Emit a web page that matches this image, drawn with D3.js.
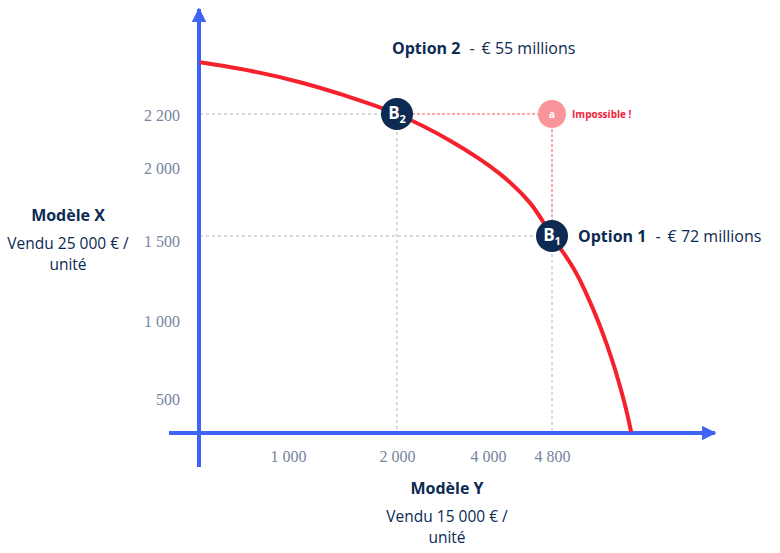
<!DOCTYPE html>
<html>
<head>
<meta charset="utf-8">
<script src="https://cdn.jsdelivr.net/npm/d3@7"></script>
<style>
  body { margin: 0; background: #fff; }
  svg { display: block; }
  .lbl { font-family: "Open Sans", sans-serif; fill: #0c2a52; }
  .tick text { font-family: "Liberation Serif", serif; font-size: 16px; fill: #7584a0; }
</style>
</head>
<body>
<svg id="chart" width="780" height="553"></svg>
<script>
const width = 780, height = 553;

// axis breakpoints (the picture's axes are not linear)
const xBreaks = [0, 1000, 2000, 4000, 4800];
const yBreaks = [0, 500, 1000, 1500, 2000, 2200];
const xTicks = [1000, 2000, 4000, 4800];
const yTicks = [500, 1000, 1500, 2000, 2200];

// production possibility frontier
const curveX = [0, 570, 1110, 1520, 2000, 3160, 4150, 4525, 4800, 5090, 5340, 5550, 5700, 5790];
const curveY = [2395, 2363, 2320, 2270, 2200, 2100, 1950, 1740, 1500, 1290, 1035, 745, 455, 0];

// options on the frontier
const optNames = ["B", "B"];
const optSubs = ["2", "1"];
const optX = [2000, 4800];
const optY = [2200, 1500];

// impossible point
const impX = 4800, impY = 2200;

const svg = d3.select("#chart");

const x = d3.scaleLinear()
  .domain(xBreaks)
  .range([200, 288, 397, 488, 552]);

const y = d3.scaleLinear()
  .domain(yBreaks)
  .range([432, 398, 320, 236, 167, 114]);

const blue = "#3e63f5", navy = "#0c2a52", red = "#f5222d", grey = "#a9b3c4";

// dashed guides
const guides = svg.append("g");
optX.forEach((v, i) => {
  guides.append("line")
    .attr("x1", x(0)).attr("x2", x(v))
    .attr("y1", y(optY[i])).attr("y2", y(optY[i]))
    .attr("stroke", grey).attr("stroke-width", 1).attr("stroke-dasharray", "3,3");
  guides.append("line")
    .attr("x1", x(v)).attr("x2", x(v))
    .attr("y1", y(optY[i])).attr("y2", y(0))
    .attr("stroke", grey).attr("stroke-width", 1).attr("stroke-dasharray", "3,3");
});
guides.append("line")
  .attr("x1", x(optX[0])).attr("x2", x(impX))
  .attr("y1", y(impY)).attr("y2", y(impY))
  .attr("stroke", "#f78a8f").attr("stroke-width", 1.5).attr("stroke-dasharray", "3,2");
guides.append("line")
  .attr("x1", x(impX)).attr("x2", x(impX))
  .attr("y1", y(impY)).attr("y2", y(optY[1]))
  .attr("stroke", "#f78a8f").attr("stroke-width", 1.5).attr("stroke-dasharray", "3,2");

// axes lines with arrows
svg.append("defs").append("marker")
  .attr("id", "arrow")
  .attr("viewBox", "0 0 10 10")
  .attr("refX", 9).attr("refY", 5)
  .attr("markerWidth", 3.6).attr("markerHeight", 3.6)
  .attr("markerUnits", "strokeWidth")
  .attr("orient", "auto")
  .append("path").attr("d", "M0,0L10,5L0,10Z").attr("fill", blue);

svg.append("line")
  .attr("x1", 169).attr("x2", 715)
  .attr("y1", y(0) + 1).attr("y2", y(0) + 1)
  .attr("stroke", blue).attr("stroke-width", 4)
  .attr("marker-end", "url(#arrow)");
svg.append("line")
  .attr("x1", x(0) - 1).attr("x2", x(0) - 1)
  .attr("y1", 467).attr("y2", 9)
  .attr("stroke", blue).attr("stroke-width", 4)
  .attr("marker-end", "url(#arrow)");

// tick labels
const fmt = d => d3.format(",")(d).replace(",", " ");

const xAxis = svg.append("g")
  .attr("transform", `translate(0,${y(0)})`)
  .call(d3.axisBottom(x).tickValues(xTicks).tickSize(0).tickPadding(19).tickFormat(fmt));
xAxis.select(".domain").remove();

const yAxis = svg.append("g")
  .attr("transform", `translate(${x(0)},0)`)
  .call(d3.axisLeft(y).tickValues(yTicks).tickSize(0).tickPadding(20).tickFormat(fmt));
yAxis.select(".domain").remove();
yAxis.selectAll(".tick text").attr("dy", d => d === 1500 ? "0.65em" : "0.38em");

// frontier
const line = d3.line()
  .x(d => x(d[0]))
  .y(d => y(d[1]))
  .curve(d3.curveCatmullRom.alpha(0.5));

svg.append("path")
  .datum(curveX.map((v, i) => [v, curveY[i]]))
  .attr("d", line)
  .attr("fill", "none")
  .attr("stroke", red)
  .attr("stroke-width", 4);

// impossible point
svg.append("circle")
  .attr("cx", x(impX)).attr("cy", y(impY)).attr("r", 14)
  .attr("fill", "#f9959a");
svg.append("text")
  .attr("x", x(impX)).attr("y", y(impY) + 3.5)
  .attr("text-anchor", "middle")
  .attr("font-family", "Open Sans, sans-serif").attr("font-weight", 700)
  .attr("font-size", 10).attr("fill", "#fff")
  .text("a");
svg.append("text")
  .attr("x", x(impX) + 20).attr("y", y(impY) + 3.5)
  .attr("font-family", "Open Sans, sans-serif").attr("font-weight", 700)
  .attr("font-size", 10).attr("fill", "#f0233a")
  .text("Impossible !");

// option points
optX.forEach((v, i) => {
  svg.append("circle")
    .attr("cx", x(v)).attr("cy", y(optY[i])).attr("r", 16)
    .attr("fill", navy);
  const t = svg.append("text")
    .attr("x", x(v)).attr("y", y(optY[i]) + 5)
    .attr("text-anchor", "middle")
    .attr("font-family", "Open Sans, sans-serif").attr("font-weight", 700)
    .attr("fill", "#fff");
  t.append("tspan").attr("font-size", 17).text(optNames[i]);
  t.append("tspan").attr("font-size", 11).attr("dy", 4).text(optSubs[i]);
});

// option labels
function optionLabel(px, py, title, value) {
  const t = svg.append("text").attr("class", "lbl")
    .attr("x", px).attr("y", py);
  t.append("tspan").attr("font-weight", 700).attr("font-size", 16).text(title);
  t.append("tspan").attr("font-size", 16).attr("dx", 9).text("-");
  t.append("tspan").attr("font-size", 16).attr("dx", 7).text(value);
}
optionLabel(392, 54, "Option 2", "€ 55 millions");
optionLabel(x(optX[1]) + 26, y(optY[1]) + 6, "Option 1", "€ 72 millions");

// axis titles
function axisTitle(cx, top, title, sub1, sub2) {
  svg.append("text").attr("class", "lbl")
    .attr("x", cx).attr("y", top)
    .attr("text-anchor", "middle")
    .attr("font-weight", 700).attr("font-size", 16)
    .text(title);
  svg.append("text").attr("class", "lbl")
    .attr("x", cx).attr("y", top + 28)
    .attr("text-anchor", "middle")
    .attr("font-size", 15.5)
    .text(sub1);
  svg.append("text").attr("class", "lbl")
    .attr("x", cx).attr("y", top + 49)
    .attr("text-anchor", "middle")
    .attr("font-size", 15.5)
    .text(sub2);
}
axisTitle(68, 221, "Modèle X", "Vendu 25 000 € /", "unité");
axisTitle(447, 494, "Modèle Y", "Vendu 15 000 € /", "unité");
</script>
</body>
</html>
